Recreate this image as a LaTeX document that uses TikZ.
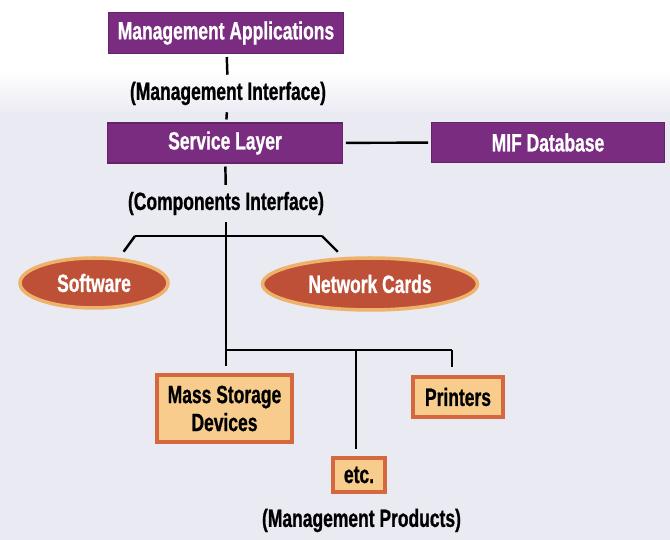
\documentclass[tikz,border=0pt]{standalone}
\usepackage{fontspec}
\setmainfont{Liberation Sans}[FakeStretch=0.7, BoldFeatures={FakeBold=0.8}]
\usetikzlibrary{shapes.geometric}
\definecolor{mifpurple}{RGB}{122,45,128}
\definecolor{ovalred}{RGB}{190,80,56}
\definecolor{ovalglow}{RGB}{238,178,106}
\definecolor{tanfill}{RGB}{247,204,140}
\definecolor{tanedge}{RGB}{214,104,64}
\definecolor{paper}{RGB}{234,234,243}
\newcommand{\diagfont}{\bfseries\fontsize{14.2}{15.9}\selectfont}

\begin{document}
\begin{tikzpicture}[x=0.02cm, y=-0.02cm, line width=1.4pt]
	\tikzset{
	    pbox/.style= {rectangle, fill=mifpurple, draw=mifpurple!80!black, line width=1pt, text=white, font=\diagfont, minimum height=0.82cm, outer sep=2pt},
	    oval/.style= {ellipse, fill=ovalred, draw=ovalglow, line width=2pt, text=white, font=\diagfont},
	    tbox/.style= {rectangle, fill=tanfill, draw=tanedge, line width=2pt, text=black, font=\diagfont, align=center},
	    iface/.style= {font=\diagfont, text=black},
	}

	% paper
	\useasboundingbox (0,0) rectangle (670,540);
	\fill[paper] (0,0) rectangle (670,540);
	\fill[white] (0,0) rectangle (670,70);
	\shade[top color=white, bottom color=paper] (0,70) rectangle (670,115);

	\node[pbox, minimum width=4.7cm] (apps) at (226, 33) {Management Applications};
	\node[iface] (mi) at (228, 93.5) {(Management Interface)};
	\node[pbox, minimum width=4.7cm, minimum height=0.8cm] (svc) at (225, 143) {Service Layer};
	\node[pbox, minimum width=4.66cm, minimum height=0.8cm] (mif) at (548, 142.5) {MIF Database};
	\node[iface] (ci) at (226, 203.5) {(Components Interface)};

	\node[oval, minimum width=2.96cm, minimum height=1cm] (sw) at (94, 283) {Software};
	\node[oval, minimum width=4.3cm, minimum height=1.04cm] (nc) at (370, 284) {Network Cards};

	\node[tbox, minimum width=2.7cm, minimum height=1.34cm] (ms) at (224.5, 408.5) {Mass Storage\\Devices};
	\node[tbox, minimum width=1.8cm, minimum height=0.8cm] (prn) at (458, 397) {Printers};
	\node[tbox, minimum width=1.04cm, minimum height=0.68cm] (et) at (359, 475) {etc.};
	\node[iface] (mp) at (361.5, 520.5) {(Management Products)};

	\coordinate (f1) at (226, 236);
	\coordinate (sl) at (135, 236);
	\coordinate (nr) at (322, 236);
	\coordinate (f2) at (226, 350);
	\coordinate (pr) at (452, 350);
	\coordinate (ec) at (356, 350);

	\draw
	(apps) edge (mi)
	(mi) edge (svc)
	(svc) edge (mif)
	(svc) edge (ci);
	\draw (ci) -- (f1) -- (f2) -- (pr);
	\draw (sl) -- (nr);
	\draw[shorten >=0.15cm] (sl) -- (sw.45);
	\draw[shorten >=0.15cm] (nr) -- (nc.135);
	\draw[shorten >=0.15cm] (f2) -- (f2 |- ms.north);
	\draw[shorten >=0.17cm] (pr) -- (pr |- prn.north);
	\draw[shorten >=0.15cm] (ec) -- (ec |- et.north);
\end{tikzpicture}
\end{document}
